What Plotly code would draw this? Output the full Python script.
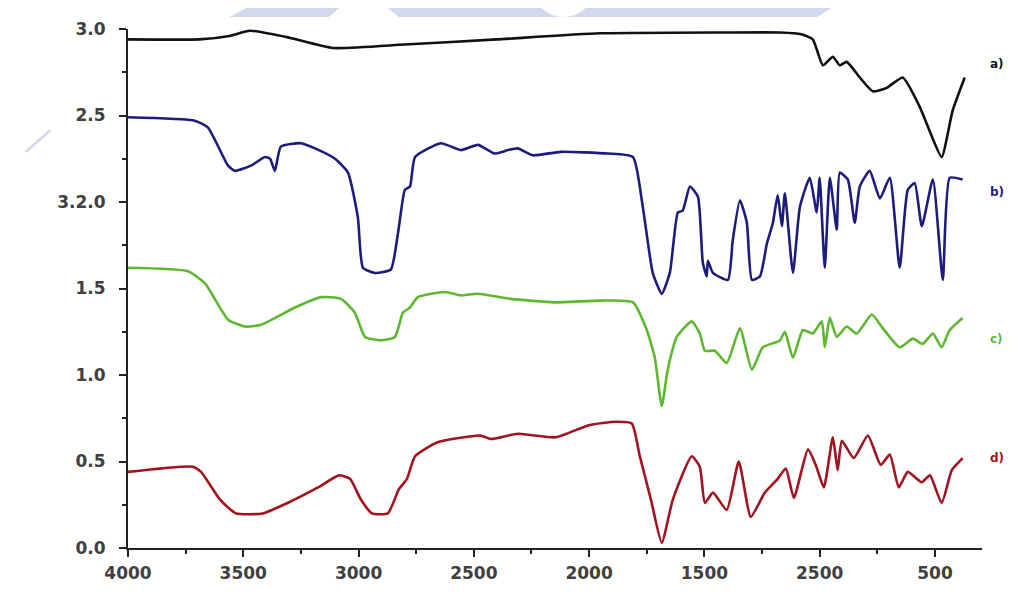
import plotly.graph_objects as go

# ---------------- data ----------------
wn_a = [4000, 3690, 3560, 3471, 3300, 3111, 2800, 2400, 1953, 1400, 1173, 1080, 1030, 986, 943, 913, 883,
        826, 770, 709, 640, 566, 520, 471, 423, 371]
val_a = [2.94, 2.94, 2.96, 2.99, 2.95, 2.89, 2.91, 2.94, 2.975, 2.98, 2.98, 2.97, 2.94, 2.79, 2.84, 2.79, 2.81,
         2.72, 2.64, 2.66, 2.72, 2.55, 2.40, 2.26, 2.53, 2.72]

wn_b = [4000, 3710, 3653, 3566, 3536, 3467, 3406, 3384, 3363, 3337, 3250, 3189, 3102, 3046, 3003, 2981,
        2929, 2860, 2829, 2799, 2777, 2755, 2643, 2556, 2482, 2409, 2352, 2309, 2244, 2123, 1919, 1810,
        1767, 1724, 1685, 1650, 1615, 1594, 1563, 1528, 1507, 1490, 1485, 1463, 1398, 1377, 1346, 1316,
        1294, 1259, 1229, 1203, 1182, 1164, 1151, 1116, 1086, 1043, 1013, 1000, 978, 956, 926, 913, 878,
        848, 826, 783, 739, 696, 653, 618, 588, 557, 509, 466, 436, 380]
val_b = [2.49, 2.47, 2.43, 2.21, 2.18, 2.21, 2.26, 2.25, 2.18, 2.32, 2.34, 2.31, 2.25, 2.17, 1.91, 1.62,
         1.59, 1.61, 1.82, 2.07, 2.09, 2.26, 2.34, 2.30, 2.33, 2.28, 2.30, 2.31, 2.27, 2.29, 2.28, 2.26,
         1.97, 1.59, 1.47, 1.59, 1.94, 1.95, 2.09, 2.03, 1.65, 1.57, 1.66, 1.59, 1.55, 1.78, 2.01, 1.88,
         1.55, 1.57, 1.76, 1.88, 2.04, 1.86, 2.05, 1.59, 1.97, 2.14, 1.94, 2.14, 1.62, 2.14, 1.84, 2.17, 2.13,
         1.88, 2.09, 2.18, 2.02, 2.14, 1.62, 2.07, 2.11, 1.86, 2.13, 1.55, 2.14, 2.13]

wn_c = [4000, 3740, 3666, 3566, 3493, 3423, 3276, 3163, 3076, 3016, 2972, 2903, 2842, 2808, 2777, 2743,
        2625, 2556, 2482, 2339, 2149, 1953, 1810, 1750, 1715, 1685, 1659, 1620, 1555, 1520, 1498, 1455,
        1403, 1346, 1294, 1247, 1173, 1151, 1116, 1073, 1030, 991, 978, 956, 926, 883, 839, 774, 726,
        653, 596, 553, 509, 471, 436, 380]
val_c = [1.62, 1.60, 1.53, 1.32, 1.28, 1.29, 1.39, 1.45, 1.44, 1.36, 1.22, 1.20, 1.22, 1.36, 1.39, 1.45,
         1.48, 1.46, 1.47, 1.44, 1.42, 1.43, 1.42, 1.26, 1.10, 0.82, 1.03, 1.22, 1.31, 1.24, 1.14, 1.14,
         1.07, 1.27, 1.03, 1.16, 1.20, 1.25, 1.10, 1.26, 1.24, 1.31, 1.16, 1.33, 1.22, 1.28, 1.24, 1.35, 1.27,
         1.16, 1.21, 1.18, 1.24, 1.16, 1.26, 1.33]

wn_d = [4000, 3718, 3683, 3601, 3532, 3415, 3293, 3176, 3085, 3037, 2990, 2942, 2873, 2825, 2790, 2755,
        2660, 2474, 2426, 2309, 2144, 2001, 1884, 1815, 1780, 1732, 1685, 1637, 1555, 1520, 1498, 1463,
        1403, 1351, 1299, 1238, 1182, 1147, 1112, 1051, 1017, 982, 943, 922, 904, 852, 791, 735, 696,
        657, 618, 557, 522, 471, 427, 380]
val_d = [0.44, 0.47, 0.44, 0.28, 0.20, 0.20, 0.27, 0.35, 0.42, 0.40, 0.28, 0.20, 0.20, 0.34, 0.40, 0.53,
         0.61, 0.65, 0.63, 0.66, 0.64, 0.71, 0.73, 0.72, 0.53, 0.28, 0.03, 0.28, 0.53, 0.47, 0.26, 0.32,
         0.22, 0.50, 0.18, 0.32, 0.40, 0.46, 0.29, 0.57, 0.48, 0.35, 0.64, 0.45, 0.62, 0.52, 0.65, 0.48, 0.54,
         0.35, 0.44, 0.38, 0.42, 0.26, 0.45, 0.52]

series_labels = ["a)", "b)", "c)", "d)"]
label_y = [2.80, 2.06, 1.21, 0.52]
colors = ["#111111", "#1c1c7e", "#5db830", "#a3121f"]

x_tickvals = [4000, 3500, 3000, 2500, 2000, 1500, 1000, 500]
x_ticktext = ["4000", "3500", "3000", "2500", "2000", "1500", "2500", "500"]
x_minor = [3750, 3250, 2750, 2250, 1750, 1250, 750]
y_tickvals = [0.0, 0.5, 1.0, 1.5, 2.0, 2.5, 3.0]
y_ticktext = ["0.0", "0.5", "1.0", "1.5", "3.2.0", "2.5", "3.0"]
y_minor = [0.25, 0.75, 1.25, 1.75, 2.25, 2.75]

# ---------------- figure ----------------
fig = go.Figure()
for wn, val, col in [(wn_a, val_a, colors[0]), (wn_b, val_b, colors[1]),
                     (wn_c, val_c, colors[2]), (wn_d, val_d, colors[3])]:
    fig.add_trace(go.Scatter(x=wn, y=val, mode="lines",
                             line=dict(color=col, width=2.6, shape="spline", smoothing=0.5),
                             showlegend=False, hoverinfo="skip"))

for lab, ly, col in zip(series_labels, label_y, colors):
    fig.add_annotation(x=1.0, xref="paper", y=ly, yref="y", text="<b>" + lab + "</b>",
                       showarrow=False, xanchor="left", xshift=6,
                       font=dict(family="DejaVu Sans, Arial", size=12, color=col))

# light watermark shapes in the background
wm = "#d3d9ec"
fig.add_shape(type="path", xref="paper", yref="paper", layer="below",
              path="M 0.119,1.023 L 0.160,1.06 L 0.842,1.06 L 0.807,1.023 Z",
              fillcolor=wm, line=dict(width=0))
fig.add_shape(type="path", xref="paper", yref="paper", layer="below",
              path="M 0.235,1.023 L 0.317,1.023 L 0.290,1.06 L 0.262,1.06 Z",
              fillcolor="white", line=dict(width=0))
fig.add_shape(type="circle", xref="paper", yref="paper", layer="below",
              x0=0.478, x1=0.542, y0=1.023, y1=1.11,
              fillcolor="white", line=dict(width=0))
fig.add_shape(type="line", xref="paper", yref="paper", layer="below",
              x0=-0.12, y0=0.763, x1=-0.091, y1=0.805,
              line=dict(color=wm, width=2.5))

axis_font = dict(family="DejaVu Sans, Verdana", size=17, color="#404040")
bold = lambda lst: ["<b>" + t + "</b>" for t in lst]
fig.update_xaxes(range=[4000, 296], tickmode="array", tickvals=x_tickvals, ticktext=bold(x_ticktext),
                 ticks="outside", ticklen=7, tickwidth=2, tickcolor="#222", ticklabelstandoff=2,
                 showline=True, linecolor="#222", linewidth=2, showgrid=False, zeroline=False,
                 tickfont=axis_font,
                 minor=dict(tickmode="array", tickvals=x_minor, ticks="outside", ticklen=4,
                            tickwidth=2, tickcolor="#222", showgrid=False))
fig.update_yaxes(range=[0, 3.0], tickmode="array", tickvals=y_tickvals, ticktext=bold(y_ticktext),
                 ticks="outside", ticklen=7, tickwidth=2, tickcolor="#222", ticklabelstandoff=10,
                 showline=True, linecolor="#222", linewidth=2, showgrid=False, zeroline=False,
                 tickfont=axis_font,
                 minor=dict(tickmode="array", tickvals=y_minor, ticks="outside", ticklen=4,
                            tickwidth=2, tickcolor="#222", showgrid=False))
fig.update_layout(width=1020, height=589, plot_bgcolor="white", paper_bgcolor="white",
                  margin=dict(l=120, r=46, t=21, b=49), showlegend=False)

fig.write_html("out.html")
